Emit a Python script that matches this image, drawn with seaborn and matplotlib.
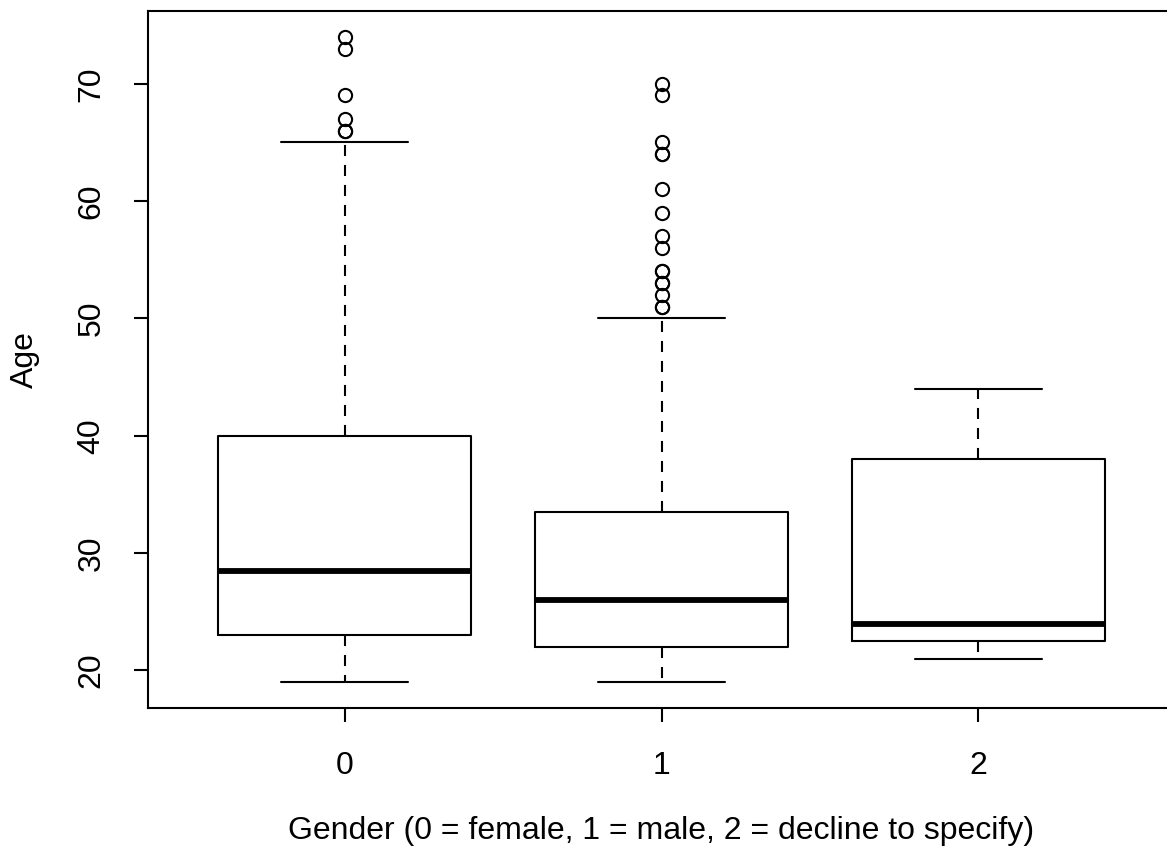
import matplotlib
matplotlib.use("Agg")
import matplotlib.pyplot as plt
import seaborn as sns

# Age summary per gender group (Tukey five-number summary + outliers)
genders = ["0", "1", "2"]
whisker_low = [19, 19, 21]
q1 = [23, 22, 22.5]
median = [28.5, 26, 24]
q3 = [40, 33.5, 38]
whisker_high = [65, 50, 44]
outliers = [
    [66, 66, 67, 69, 73, 74],
    [51, 51, 52, 53, 53, 54, 54, 56, 57, 59, 61, 64, 64, 65, 69, 70],
    [],
]
y_ticks = [20, 30, 40, 50, 60, 70]

sns.set_style("white")
plt.rcParams["font.family"] = ["Liberation Sans", "DejaVu Sans"]

fig = plt.figure(figsize=(11.67, 8.52), dpi=100)
ax = fig.add_axes([148 / 1167, 1 - 708 / 852, 1027 / 1167, 697 / 852])

stats = [
    dict(label=g, whislo=lo, q1=a, med=m, q3=b, whishi=hi, fliers=f)
    for g, lo, a, m, b, hi, f in zip(genders, whisker_low, q1, median, q3,
                                      whisker_high, outliers)
]

lw = 1.5
ax.bxp(
    stats,
    positions=range(len(genders)),
    widths=0.8,
    capwidths=0.4,
    boxprops=dict(color="black", linewidth=lw),
    medianprops=dict(color="black", linewidth=4.2, solid_capstyle="butt"),
    whiskerprops=dict(color="black", linewidth=lw, linestyle=(0, (5.3, 4.3))),
    capprops=dict(color="black", linewidth=lw),
    flierprops=dict(marker="o", markerfacecolor="none", markeredgecolor="black",
                    markersize=9.5, markeredgewidth=lw),
)

ax.set_xlim(-0.62, 2.62)
ax.set_ylim(16.8, 76.2)
ax.set_xticks(range(len(genders)))
ax.set_xticklabels(genders)
ax.set_yticks(y_ticks)
ax.set_yticklabels([str(t) for t in y_ticks], rotation=90, va="center")

for s in ax.spines.values():
    s.set_visible(True)
    s.set_color("black")
    s.set_linewidth(lw)

ax.tick_params(axis="both", which="major", bottom=True, left=True,
               direction="out", length=10, width=lw, color="black",
               labelsize=23, labelcolor="black")
ax.tick_params(axis="x", pad=21)
ax.tick_params(axis="y", pad=20)

ax.set_xlabel("Gender (0 = female, 1 = male, 2 = decline to specify)",
              fontsize=23, color="black", labelpad=25)
ax.set_ylabel("Age", fontsize=23, color="black", labelpad=26)

fig.savefig("out.png", dpi=100, facecolor="white")
